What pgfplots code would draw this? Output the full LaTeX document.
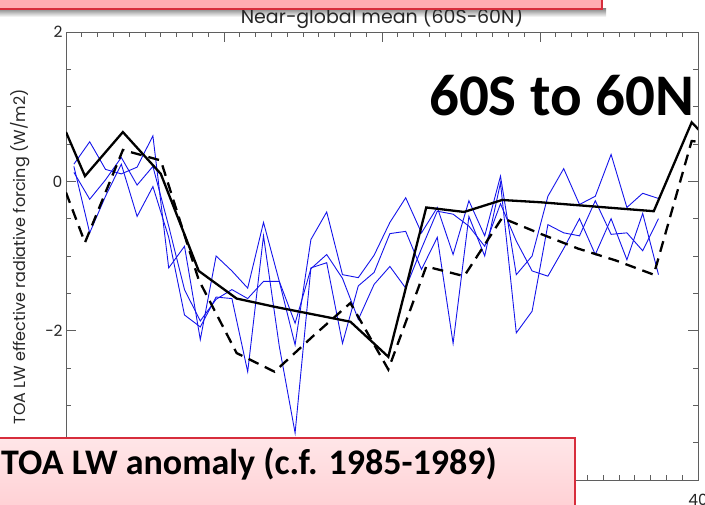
\documentclass[border=0pt]{standalone}
\usepackage{fontspec}
\usepackage{pgfplots}
\usepackage{pgfplotstable}
\pgfplotsset{compat=1.18}
\newfontfamily\idlfont{Poppins}
\newfontfamily\slidefont{Carlito}
\definecolor{ensblue}{RGB}{20,20,235}
\definecolor{boxred}{RGB}{215,45,60}
\definecolor{boxpink}{RGB}{255,172,178}
\definecolor{boxlight}{RGB}{255,230,232}
\definecolor{boxdeep}{RGB}{255,208,212}
\definecolor{axgray}{RGB}{95,95,95}

% individual ensemble members (annual values)
\pgfplotstableread{
x a b c
0.5 0.23 0.12 0.20
1.5 0.53 -0.24 -0.69
2.5 0.16 0.02 -0.20
3.5 0.10 0.32 0.23
4.5 0.19 -0.05 -0.47
5.5 0.61 0.20 -0.07
6.5 -1.16 -0.60 -0.75
7.5 -0.87 -1.45 -1.79
8.5 -2.12 -1.87 -1.95
9.5 -1.00 -1.58 -1.55
10.5 -1.20 -1.45 -1.57
11.5 -1.43 -1.57 -2.55
12.5 -0.55 -1.34 -0.73
13.5 -1.34 -1.34 -2.21
14.5 -2.19 -1.90 -3.37
15.5 -0.78 -1.17 -1.16
16.5 -0.41 -0.98 -1.09
17.5 -1.25 -1.30 -2.17
18.5 -1.29 -1.85 -1.40
19.5 -0.99 -1.38 -1.22
20.5 -0.55 -1.14 -0.70
21.5 -0.22 -1.43 -0.67
22.5 -0.69 -0.90 -1.18
23.5 -0.35 -0.40 -0.75
24.5 -0.98 -0.44 -2.17
25.5 -0.26 -0.60 -0.47
26.5 -0.73 -0.87 -1.00
27.5 0.07 -0.30 -0.02
28.5 -1.25 -0.80 -2.03
29.5 -1.00 -1.20 -1.74
30.5 -0.20 -1.27 -0.58
31.5 0.17 -0.90 -0.69
32.5 -0.31 -0.50 -0.73
33.5 -0.20 -0.98 -0.26
34.5 0.36 -0.50 -0.71
35.5 -0.35 -1.05 -0.69
36.5 -0.16 -0.43 -0.93
37.5 -0.23 -1.25 -0.50
}\members

% smoothed reference curves
\pgfplotstableread{
x solid dashed
0.0 0.66 -0.15
1.2 0.07 -0.82
3.6 0.66 0.42
6.0 0.10 0.28
8.4 -1.20 -1.32
10.8 -1.57 -2.30
13.2 -1.68 -2.55
15.6 -1.78 -2.08
18.0 -1.88 -1.63
20.4 -2.35 -2.52
22.8 -0.35 -1.14
25.2 -0.41 -1.27
27.6 -0.25 -0.49
30.0 -0.28 -0.70
32.4 -0.32 -0.90
34.8 -0.36 -1.06
37.2 -0.40 -1.25
39.6 0.79 0.54
42.0 0.26 0.48
}\means

\begin{document}
\begin{tikzpicture}[x=1pt,y=1pt]
\useasboundingbox (0,0) rectangle (705,504);
\clip (0,0) rectangle (705,504);
\begin{axis}[
  at={(66pt,24pt)}, anchor=south west,
  scale only axis, width=632pt, height=448pt,
  xmin=0, xmax=40, ymin=-4, ymax=2,
  xtick={0,10,20,30,40}, xticklabels={,,,,40},
  minor x tick num=9,
  ytick={-4,-2,0,2}, yticklabels={,−2,0,2},
  minor y tick num=3,
  xtick pos=both, ytick pos=both,
  xticklabel pos=lower, yticklabel pos=left,
  tick align=inside,
  major tick length=10pt, minor tick length=5pt,
  axis line style={axgray, line width=0.8pt},
  tick style={axgray, line width=0.7pt},
  tick label style={font=\idlfont\fontsize{15.5}{15.5}\selectfont, text=black!85},
  xticklabel style={yshift=-11pt},
]
\addplot[ensblue, line width=0.9pt] table[x=x, y=a] {\members};
\addplot[ensblue, line width=0.9pt] table[x=x, y=b] {\members};
\addplot[ensblue, line width=0.9pt] table[x=x, y=c] {\members};
\addplot[black, line width=2.3pt, dash pattern=on 11pt off 7pt] table[x=x, y=dashed] {\means};
\addplot[black, line width=2.3pt] table[x=x, y=solid] {\means};
\end{axis}

% title and axis label
\fill[top color=black!45, bottom color=white] (0,487) rectangle (606,495);
\node[anchor=base, font=\idlfont\fontsize{19}{19}\selectfont, text=black!85, inner sep=0] at (382,480) {Near−global mean (60S−60N)};
\node[rotate=90, font=\idlfont\fontsize{16}{16}\selectfont, text=black!85, inner sep=0] at (20,247) {TOA LW effective radiative forcing (W/m2)};

% region tag
\node[anchor=base east, font=\slidefont\bfseries\fontsize{59}{59}\selectfont, inner sep=0] at (694,388) {60S to 60N};

% overlay boxes
\fill[boxpink] (-3,495) rectangle (602,507);
\draw[boxred, line width=1.5pt] (-3,495) -- (602,495) -- (602,507);
\shade[top color=boxlight, bottom color=boxdeep] (-3,66) rectangle (575,-6);
\draw[boxred, line width=1.5pt] (-3,66) -- (575,66) -- (575,-6);
\node[anchor=base west, font=\slidefont\bfseries\fontsize{36}{36}\selectfont, inner sep=0] at (1,30) {TOA LW anomaly (c.f. 1985-1989)};
\end{tikzpicture}
\end{document}
